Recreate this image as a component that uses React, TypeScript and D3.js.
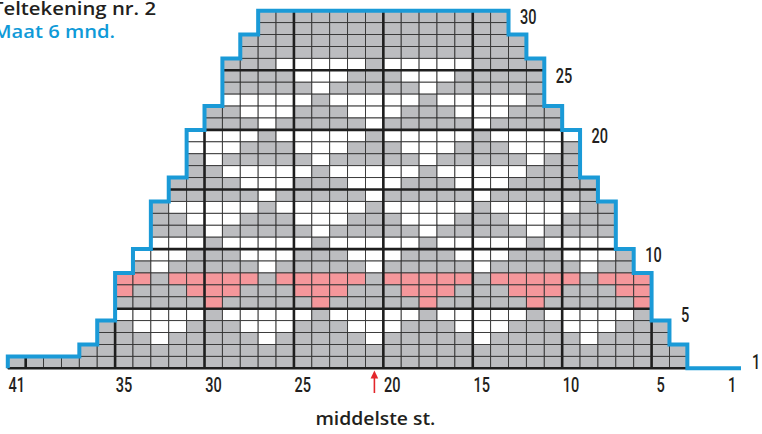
import React, { useEffect, useRef } from 'react';
import * as d3 from 'd3';

// Telpatroon, bovenste toer (30) eerst. Per toer: eerste steek (links) en de cellen
// van links naar rechts. # = grijs, o = wit, p = roze
const rowStart: number[] = [
  27, 27, 28, 28, 29, 29, 29, 29, 30, 30, 31, 31, 31, 31, 32,
  32, 33, 33, 33, 33, 34, 34, 35, 35, 35, 35, 36, 36, 37, 41,
];

const rowCells: string[] = [
  '##############', // 30
  '##############', // 29
  '################', // 28
  '################', // 27
  '###ooooo#ooooo####', // 26
  '####ooo###ooo#####', // 25
  '#####o#####o######', // 24
  'ooooo#ooooo#ooooo#', // 23
  '##ooo###ooo###ooo###', // 22
  '###o#####o#####o####', // 21
  'oooo#ooooo#ooooo#ooooo', // 20
  'ooo###ooo###ooo###ooo#', // 19
  '#o#####o#####o#####o##', // 18
  '##ooooo#ooooo#ooooo###', // 17
  '####ooo###ooo###ooo#####', // 16
  '#####o#####o#####o######', // 15
  '#ooooo#ooooo#ooooo#ooooo##', // 14
  '##ooo###ooo###ooo###ooo###', // 13
  '###o#####o#####o#####o####', // 12
  'ooo#ooooo#ooooo#ooooo#oooo', // 11
  'ooo###ooo###ooo###ooo###ooo#', // 10
  '#o#####o#####o#####o#####o##', // 9
  'pp#ppppp#ppppp#ppppp#ppppp#ppp', // 8
  'p###ppp###ppp###ppp###ppp###pp', // 7
  '#####p#####p#####p#####p#####p', // 6
  'ooooo#ooooo#ooooo#ooooo#ooooo#', // 5
  '##ooo###ooo###ooo###ooo###ooo###', // 4
  '###o#####o#####o#####o#####o####', // 3
  '##################################', // 2
  '######################################', // 1
];

const colTicks = [41, 35, 30, 25, 20, 15, 10, 5, 1];
const rowTicks = [30, 25, 20, 10, 5, 1];
const thickEvery = 5;
const middleStitch = 21;

const title = 'Teltekening nr. 2';
const subtitle = 'Maat 6 mnd.';
const middleLabel = 'middelste st.';

const fills: Record<string, string> = { '#': '#bcbdc0', o: '#ffffff', p: '#f5979b' };

const W = 762;
const H = 434;

const App = () => {
  const ref = useRef<SVGSVGElement>(null);

  useEffect(() => {
    const svg = d3.select(ref.current);
    svg.selectAll('*').remove();

    // colX(n) = linkerrand steek n, rechterrand = colX(n - 1)
    const colX = d3.scaleLinear().domain([41, 0]).range([7.8, 741]);
    // rowY(r) = bovenrand toer r, onderrand = rowY(r - 1)
    const rowY = d3.scaleLinear().domain([0, 30]).range([368.3, 10.7]);

    const rows = rowCells.map((cells, i) => {
      const row = 30 - i;
      const start = rowStart[i];
      return { row, start, end: start - cells.length + 1, cells };
    });
    const byRow = new Map(rows.map((d) => [d.row, d]));

    const cellData = rows.flatMap((d) =>
      d.cells.split('').map((c, j) => ({ row: d.row, col: d.start - j, c })),
    );

    svg
      .append('g')
      .selectAll('rect')
      .data(cellData)
      .join('rect')
      .attr('x', (d) => colX(d.col))
      .attr('y', (d) => rowY(d.row))
      .attr('width', (d) => colX(d.col - 1) - colX(d.col))
      .attr('height', (d) => rowY(d.row - 1) - rowY(d.row))
      .attr('fill', (d) => fills[d.c])
      .attr('stroke', '#333')
      .attr('stroke-width', 0.9);

    // dikke lijnen om de 5 steken / toeren
    const thick = svg.append('g').attr('stroke', '#1e1e1e').attr('stroke-width', 2.6);
    rows.forEach((d) => {
      for (let b = thickEvery; b < 41; b += thickEvery) {
        if (b + 1 <= d.start && b >= d.end) {
          thick
            .append('line')
            .attr('x1', colX(b))
            .attr('x2', colX(b))
            .attr('y1', rowY(d.row))
            .attr('y2', rowY(d.row - 1));
        }
      }
    });
    for (let r = thickEvery; r < 30; r += thickEvery) {
      const up = byRow.get(r + 1)!;
      thick
        .append('line')
        .attr('x1', colX(up.start))
        .attr('x2', colX(up.end - 1))
        .attr('y1', rowY(r))
        .attr('y2', rowY(r));
    }
    const first = byRow.get(1)!;
    thick
      .append('line')
      .attr('x1', colX(first.start))
      .attr('x2', colX(first.end - 1))
      .attr('y1', rowY(0))
      .attr('y2', rowY(0));

    // blauwe omtrek
    const pts: [number, number][] = [];
    for (let r = 1; r <= 30; r++) {
      const d = byRow.get(r)!;
      pts.push([colX(d.start), rowY(r - 1)], [colX(d.start), rowY(r)]);
    }
    for (let r = 30; r >= 1; r--) {
      const d = byRow.get(r)!;
      pts.push([colX(d.end - 1), rowY(r)], [colX(d.end - 1), rowY(r - 1)]);
    }
    pts.push([colX(0), rowY(0)]);
    svg
      .append('path')
      .attr('d', d3.line()(pts))
      .attr('fill', 'none')
      .attr('stroke', '#1a9ad7')
      .attr('stroke-width', 4)
      .attr('stroke-linejoin', 'miter');

    const numFont = 'Roboto, "Liberation Sans", sans-serif';

    // steeknummers
    svg
      .append('g')
      .selectAll('text')
      .data(colTicks)
      .join('text')
      .attr('x', (n) => (colX(n) + colX(n - 1)) / 2)
      .attr('y', 392)
      .attr('text-anchor', 'middle')
      .attr('font-family', numFont)
      .attr('font-weight', 500)
      .attr('font-size', 20)
      .attr('fill', '#231f20')
      .attr('textLength', (n) => (n > 9 ? 16.5 : 8.3))
      .attr('lengthAdjust', 'spacingAndGlyphs')
      .text((n) => n);

    // toernummers, rechts naast de omtrek
    svg
      .append('g')
      .selectAll('text')
      .data(rowTicks)
      .join('text')
      .attr('x', (r) => {
        if (r === 1) return colX(0) + 11;
        const lo = Math.min(byRow.get(r)!.end, byRow.get(r - 1)!.end);
        return colX(lo - 1) + 11.5;
      })
      .attr('y', (r) => (rowY(r) + rowY(r - 1)) / 2 + 7)
      .attr('font-family', numFont)
      .attr('font-weight', 500)
      .attr('font-size', 20)
      .attr('fill', '#231f20')
      .attr('textLength', (r) => (r > 9 ? 16.5 : 8.3))
      .attr('lengthAdjust', 'spacingAndGlyphs')
      .text((r) => r);

    // middelste steek
    const mx = (colX(middleStitch) + colX(middleStitch - 1)) / 2;
    svg
      .append('line')
      .attr('x1', mx)
      .attr('x2', mx)
      .attr('y1', 393)
      .attr('y2', 376)
      .attr('stroke', '#e3262b')
      .attr('stroke-width', 1.6);
    svg
      .append('path')
      .attr('d', d3.line()([[mx - 3.8, 378.5], [mx, 370.5], [mx + 3.8, 378.5]]) + 'Z')
      .attr('fill', '#e3262b');
    svg
      .append('text')
      .attr('x', mx + 1)
      .attr('y', 425)
      .attr('text-anchor', 'middle')
      .attr('font-family', '"Open Sans", sans-serif')
      .attr('font-weight', 600)
      .attr('font-size', 18)
      .attr('fill', '#231f20')
      .attr('textLength', 120)
      .attr('lengthAdjust', 'spacingAndGlyphs')
      .text(middleLabel);

    svg
      .append('text')
      .attr('x', -8)
      .attr('y', 14.5)
      .attr('font-family', '"Open Sans", sans-serif')
      .attr('font-weight', 600)
      .attr('font-size', 18)
      .attr('fill', '#231f20')
      .attr('textLength', 164)
      .attr('lengthAdjust', 'spacingAndGlyphs')
      .text(title);

    svg
      .append('text')
      .attr('x', -7)
      .attr('y', 37.5)
      .attr('font-family', '"Open Sans", sans-serif')
      .attr('font-weight', 600)
      .attr('font-size', 18)
      .attr('fill', '#0f9ad8')
      .attr('textLength', 122)
      .attr('lengthAdjust', 'spacingAndGlyphs')
      .text(subtitle);
  }, []);

  return (
    <svg
      ref={ref}
      width={W}
      height={H}
      style={{ position: 'absolute', left: 0, top: 0, background: '#fff' }}
    />
  );
};

export default App;
